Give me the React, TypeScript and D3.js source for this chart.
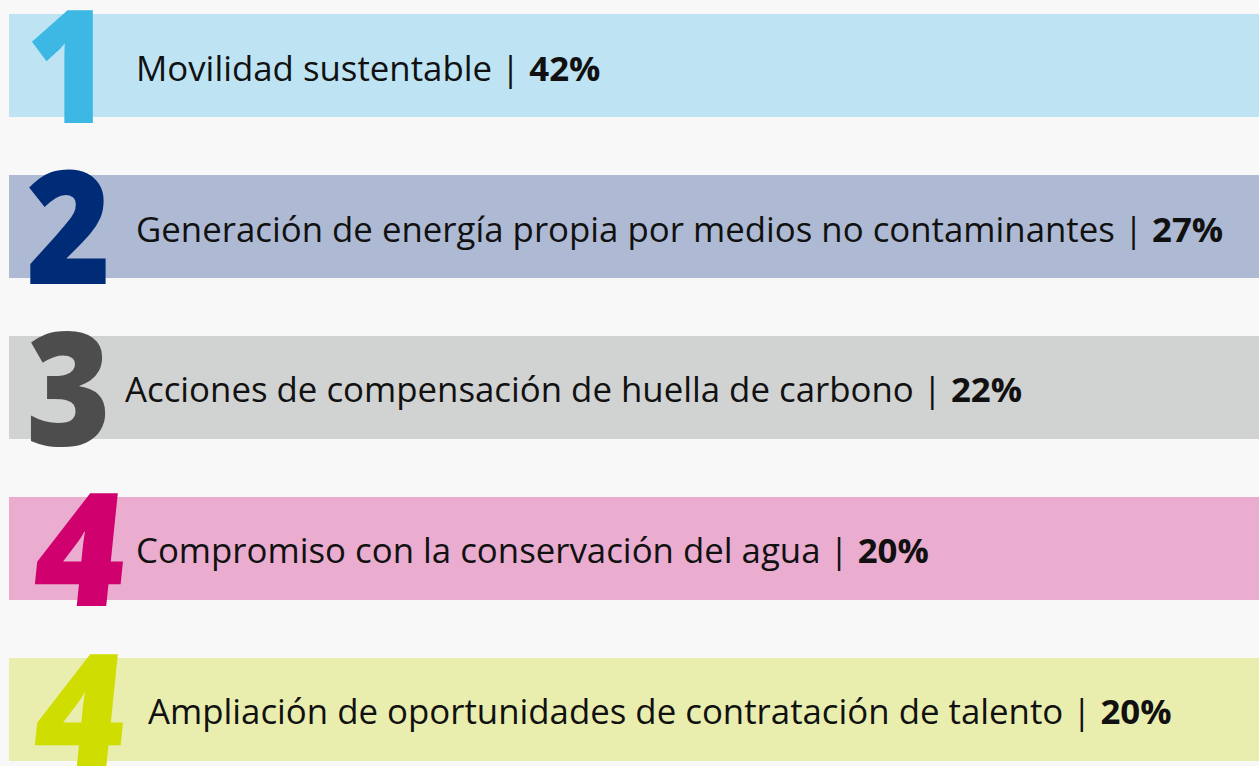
import React, { useEffect, useRef } from 'react';
import * as d3 from 'd3';

// ranking data
const ranks = ['1', '2', '3', '4', '4'];
const labels = [
  'Movilidad sustentable',
  'Generación de energía propia por medios no contaminantes',
  'Acciones de compensación de huella de carbono',
  'Compromiso con la conservación del agua',
  'Ampliación de oportunidades de contratación de talento',
];
const percents = [42, 27, 22, 20, 20];
const bandColors = ['#bee4f3', '#aebad3', '#d1d2d2', '#eaadcf', '#e9eeaf'];
const digitColors = ['#3db8e4', '#002c77', '#4d4d4d', '#d0006f', '#cfdd00'];
// small per-row horizontal nudge of the label
const labelNudge = [0, 0, -11, 0, 12];

const W = 1259;
const H = 766;

const App = () => {
  const svgRef = useRef<SVGSVGElement>(null);

  useEffect(() => {
    const svg = d3.select(svgRef.current);
    svg.selectAll('*').remove();

    svg.append('rect')
      .attr('width', W)
      .attr('height', H)
      .attr('fill', '#f8f8f8');

    const rows = labels.map((label, i) => ({
      i,
      rank: ranks[i],
      label,
      pct: percents[i],
    }));

    const y = d3.scaleBand<number>()
      .domain(rows.map(d => d.i))
      .range([14, 761])
      .paddingInner(0.36)
      .paddingOuter(0);

    const g = svg.selectAll('g.row')
      .data(rows)
      .enter()
      .append('g')
      .attr('class', 'row')
      .attr('transform', d => `translate(0,${y(d.i)})`);

    g.append('rect')
      .attr('x', 9)
      .attr('width', W - 9)
      .attr('height', y.bandwidth())
      .attr('fill', d => bandColors[d.i]);

    // big rank digit
    g.append('text')
      .attr('transform', d => `translate(${d.rank === '4' ? 30 : 26},${y.bandwidth() + 6}) scale(${d.rank === '4' ? 0.98 : 0.92},1) skewX(${d.rank === '4' ? -6 : 0})`)
      .attr('font-family', '"Open Sans", sans-serif')
      .attr('font-weight', 800)
      .attr('font-size', 158)
      .attr('fill', d => digitColors[d.i])
      .text(d => d.rank);

    const t = g.append('text')
      .attr('x', d => 136 + labelNudge[d.i])
      .attr('y', y.bandwidth() / 2 + 15)
      .attr('font-family', '"Open Sans", sans-serif')
      .attr('font-size', 34.8)
      .attr('fill', '#111');

    t.append('tspan').text(d => `${d.label} | `);
    t.append('tspan')
      .attr('font-weight', 700)
      .text(d => `${d.pct}%`);
  }, []);

  return (
    <svg
      ref={svgRef}
      width={W}
      height={H}
      style={{ position: 'absolute', left: 0, top: 0 }}
    />
  );
};

export default App;
